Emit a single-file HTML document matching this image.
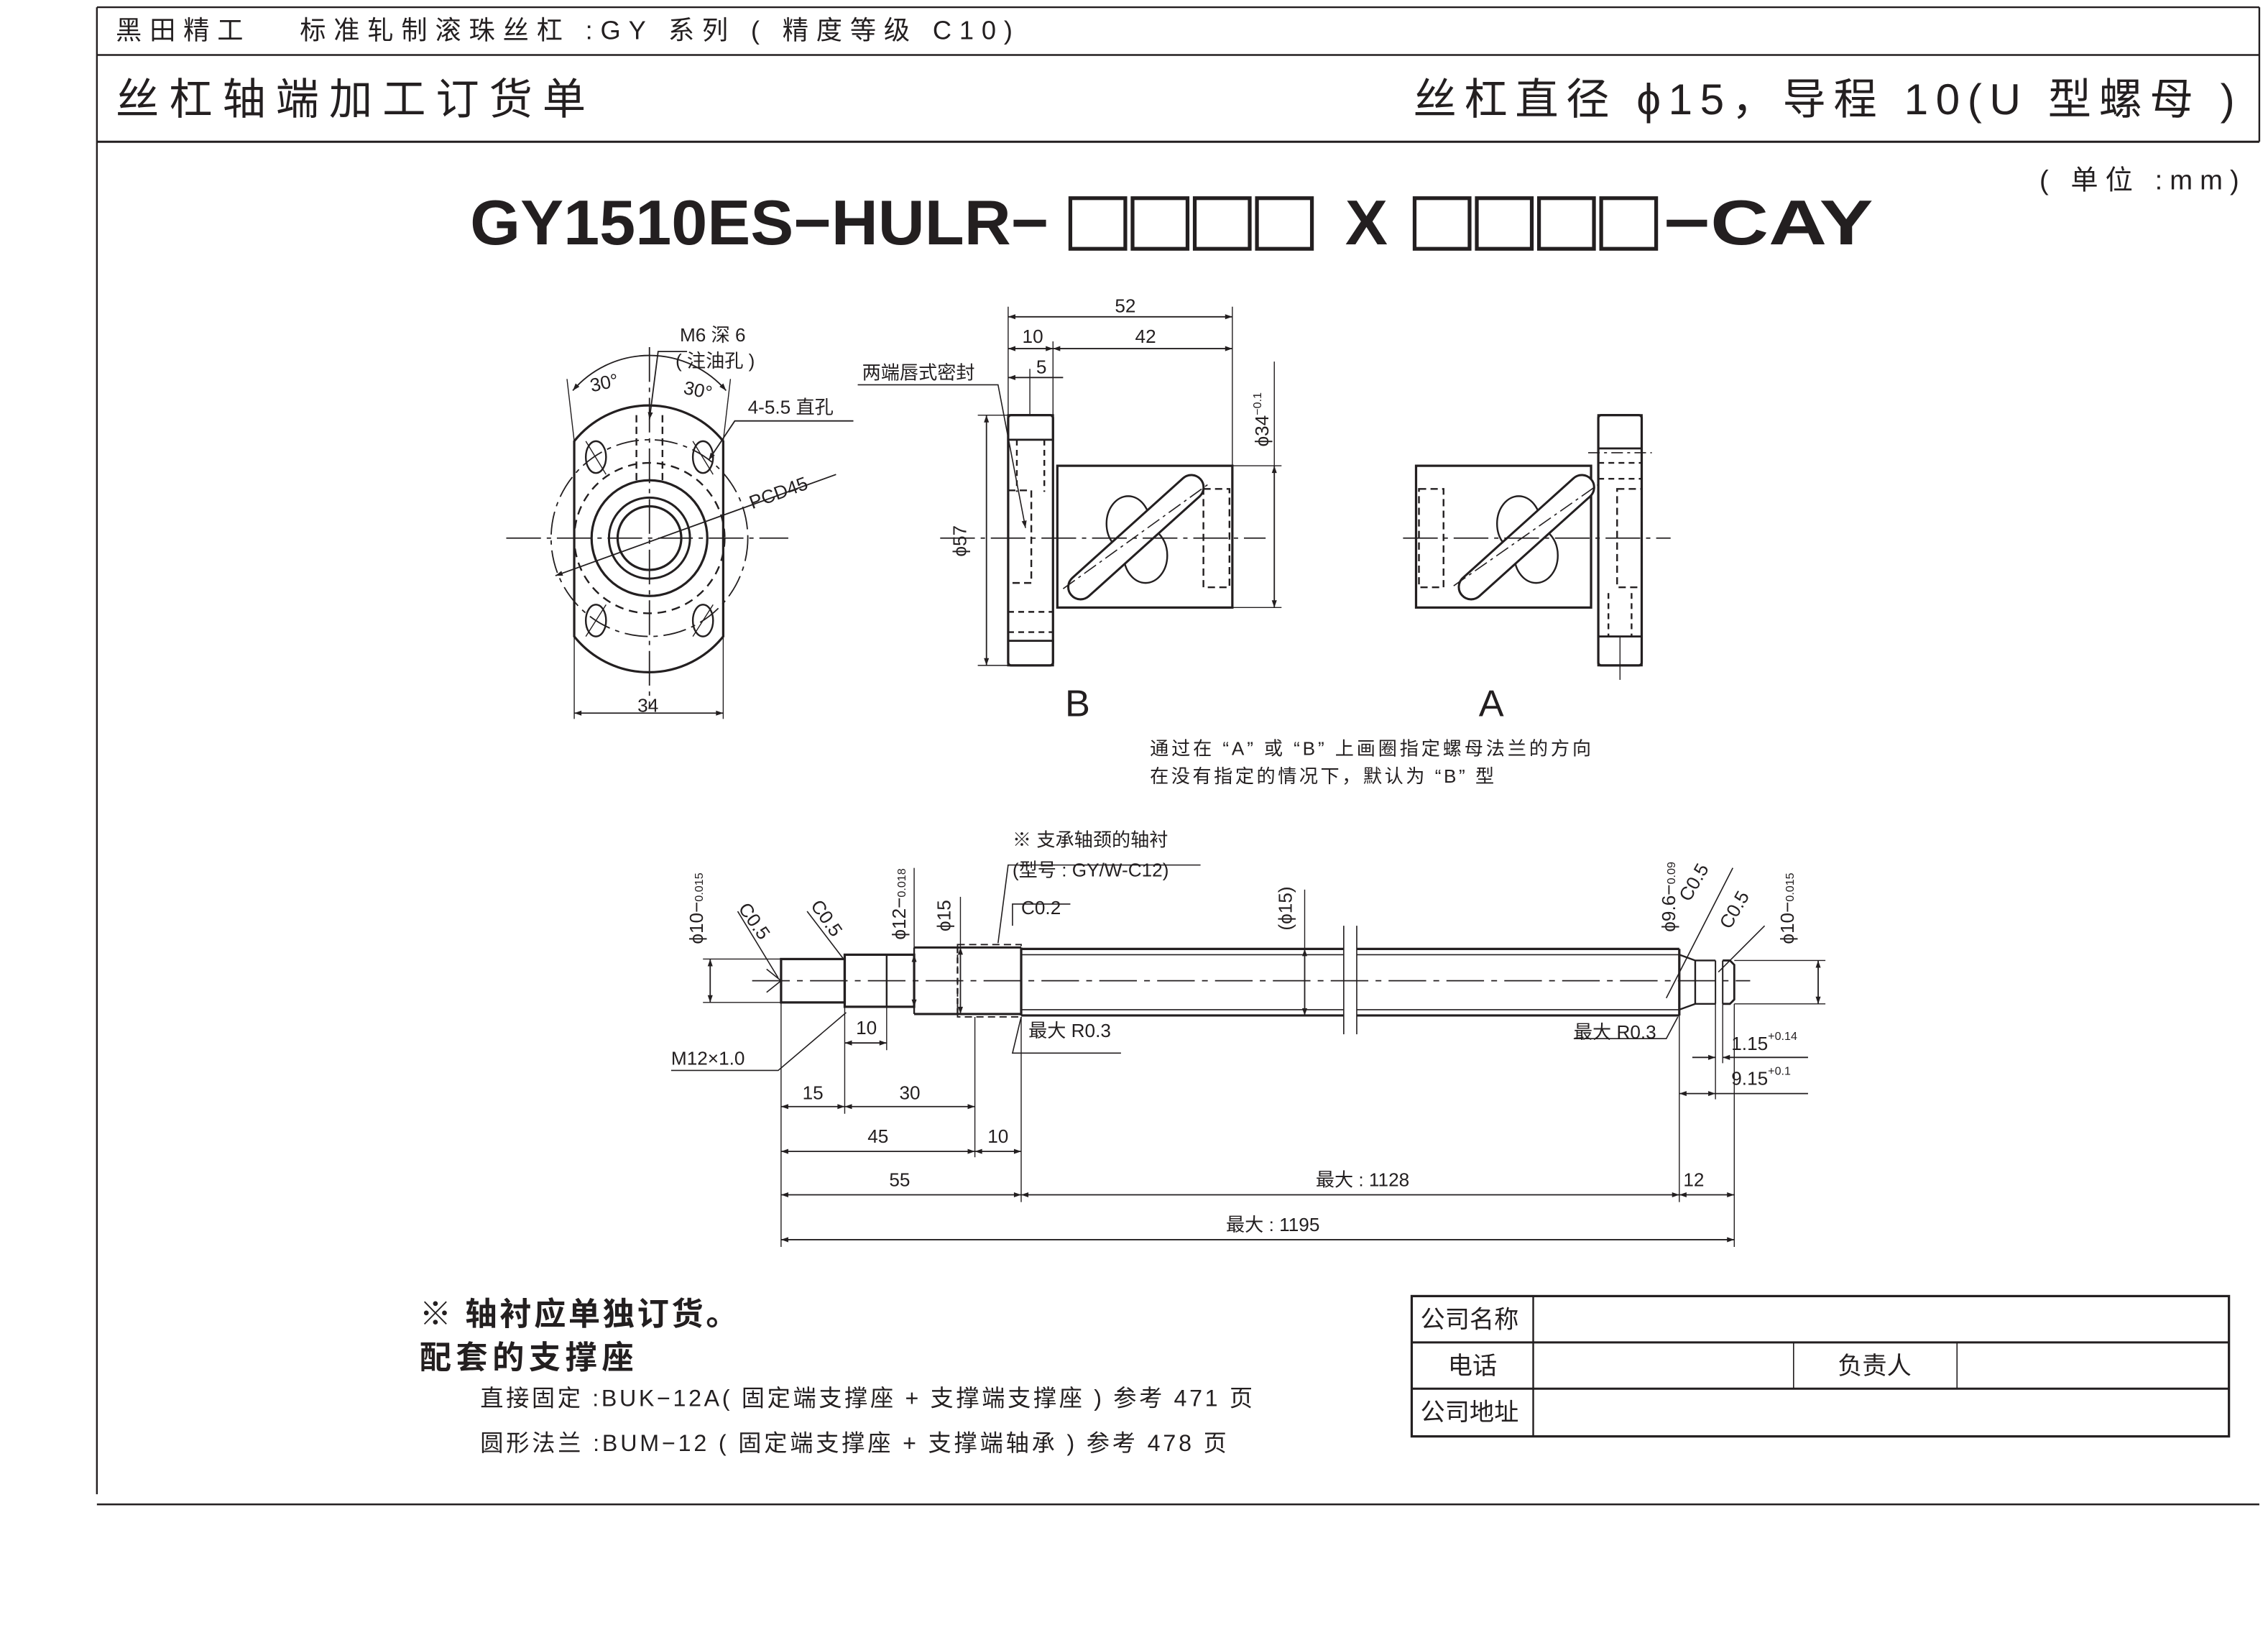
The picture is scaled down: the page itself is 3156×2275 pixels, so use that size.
<!DOCTYPE html>
<html><head><meta charset="utf-8"><style>
html,body{margin:0;padding:0;background:#fff;}
svg{display:block;}
text{font-family:"Liberation Sans","Noto Sans CJK SC",sans-serif;fill:#231f20;}
</style></head><body>
<svg width="3156" height="2275" viewBox="0 0 1568 1130.3" preserveAspectRatio="none" xmlns="http://www.w3.org/2000/svg">
<defs>
<marker id="ar" viewBox="0 0 10 10" refX="10" refY="5" markerWidth="7" markerHeight="5" orient="auto-start-reverse" markerUnits="userSpaceOnUse"><path d="M0,1.5 L10,5 L0,8.5z" fill="#231f20"/></marker>
</defs>
<g stroke="#231f20" fill="none" stroke-width="1.2">
<line x1="67" y1="5" x2="1562" y2="5"/>
<line x1="67" y1="38" x2="1562" y2="38"/>
<line x1="67" y1="98" x2="1562" y2="98" stroke-width="1.5"/>
<line x1="67" y1="5" x2="67" y2="1033"/>
<line x1="1562" y1="5" x2="1562" y2="98"/>
<line x1="67" y1="1040" x2="1562" y2="1040"/>

<!-- title boxes -->
<g stroke-width="2.6">
<rect x="740" y="137" width="38" height="35"/><rect x="783" y="137" width="38" height="35"/><rect x="826" y="137" width="38" height="35"/><rect x="869" y="137" width="38" height="35"/>
<rect x="978" y="137" width="38" height="35"/><rect x="1021" y="137" width="38" height="35"/><rect x="1064" y="137" width="38" height="35"/><rect x="1107" y="137" width="38" height="35"/>
</g>

<!-- front view -->
<path d="M397,305 A66,66 0 0 1 500,305 L500,440 A66,66 0 0 1 397,440 Z" stroke-width="1.6"/>
<line x1="350" y1="372" x2="545" y2="372" stroke-dasharray="24,4,3,4" stroke-width="0.9"/>
<line x1="449" y1="240" x2="449" y2="490" stroke-dasharray="24,4,3,4" stroke-width="0.9"/>
<circle cx="449" cy="372" r="22" stroke-width="1.6"/>
<circle cx="449" cy="372" r="28" stroke-width="1.5"/>
<circle cx="449" cy="372" r="40" stroke-width="1.6"/>
<circle cx="449" cy="372" r="52" stroke-dasharray="6,4"/>
<circle cx="449" cy="372" r="68" stroke-dasharray="16,4,3,4" stroke-width="0.9"/>
<ellipse cx="412" cy="316" rx="7" ry="11"/><ellipse cx="486" cy="316" rx="7" ry="11"/>
<ellipse cx="412" cy="429" rx="7" ry="11"/><ellipse cx="486" cy="429" rx="7" ry="11"/>
<line x1="405" y1="305" x2="419" y2="328" stroke-width="0.7"/><line x1="479" y1="305" x2="493" y2="328" stroke-width="0.7"/>
<line x1="405" y1="440" x2="419" y2="418" stroke-width="0.7"/><line x1="479" y1="440" x2="493" y2="418" stroke-width="0.7"/>
<path d="M440,287 V335 M458,287 V335" stroke-dasharray="5,3"/>
<path d="M396,270 A70,70 0 0 1 502,270" marker-start="url(#ar)" marker-end="url(#ar)" stroke-width="0.9"/>
<line x1="397" y1="305" x2="392" y2="262" stroke-width="0.7"/><line x1="500" y1="305" x2="505" y2="262" stroke-width="0.7"/>
<polyline points="449,290 455,243 475,243" stroke-width="0.9" marker-start="url(#ar)"/>
<polyline points="490,318 508,291 590,291" stroke-width="0.9" marker-start="url(#ar)"/>
<line x1="384" y1="398" x2="578" y2="328" marker-start="url(#ar)" stroke-width="0.9"/>
<line x1="397" y1="440" x2="397" y2="497" stroke-width="0.7"/><line x1="500" y1="440" x2="500" y2="497" stroke-width="0.7"/>
<line x1="397" y1="493" x2="500" y2="493" marker-start="url(#ar)" marker-end="url(#ar)" stroke-width="0.9"/>

<!-- view B -->
<rect x="697" y="287" width="31" height="173" rx="2" stroke-width="1.6"/>
<rect x="697" y="287" width="31" height="17" stroke-width="1.4"/>
<rect x="697" y="443" width="31" height="17" stroke-width="1.4"/>
<line x1="703" y1="304" x2="703" y2="340" stroke-dasharray="4,3"/><line x1="722" y1="304" x2="722" y2="340" stroke-dasharray="4,3"/>
<rect x="697" y="339" width="16" height="64" stroke-dasharray="5,3"/>
<line x1="697" y1="423" x2="728" y2="423" stroke-dasharray="4,3"/><line x1="697" y1="437" x2="728" y2="437" stroke-dasharray="4,3"/>
<rect x="731" y="322" width="121" height="98" stroke-width="1.6"/>
<rect x="832" y="338" width="18" height="68" stroke-dasharray="5,3"/>
<ellipse cx="780" cy="362" rx="15" ry="19"/><ellipse cx="792" cy="384" rx="15" ry="19"/>
<g transform="rotate(-42 785 371)"><rect x="725" y="363" width="120" height="17" rx="8.5" stroke-width="1.5" fill="#fff"/></g>
<line x1="735" y1="407" x2="835" y2="335" stroke-dasharray="10,3,2,3" stroke-width="0.8"/>
<line x1="650" y1="372" x2="875" y2="372" stroke-dasharray="24,4,3,4" stroke-width="0.9"/>
<line x1="697" y1="212" x2="697" y2="287" stroke-width="0.7"/><line x1="852" y1="212" x2="852" y2="322" stroke-width="0.7"/>
<line x1="728" y1="236" x2="728" y2="287" stroke-width="0.7"/><line x1="712" y1="255" x2="712" y2="287" stroke-width="0.7"/>
<line x1="697" y1="219" x2="852" y2="219" marker-start="url(#ar)" marker-end="url(#ar)" stroke-width="0.9"/>
<line x1="697" y1="241" x2="728" y2="241" marker-start="url(#ar)" marker-end="url(#ar)" stroke-width="0.9"/>
<line x1="728" y1="241" x2="852" y2="241" marker-start="url(#ar)" marker-end="url(#ar)" stroke-width="0.9"/>
<line x1="697" y1="261" x2="712" y2="261" marker-start="url(#ar)" stroke-width="0.9"/><line x1="712" y1="261" x2="735" y2="261" stroke-width="0.9"/>
<line x1="676" y1="287" x2="697" y2="287" stroke-width="0.7"/><line x1="676" y1="460" x2="697" y2="460" stroke-width="0.7"/>
<line x1="682" y1="287" x2="682" y2="460" marker-start="url(#ar)" marker-end="url(#ar)" stroke-width="0.9"/>
<line x1="852" y1="322" x2="886" y2="322" stroke-width="0.7"/><line x1="852" y1="420" x2="886" y2="420" stroke-width="0.7"/>
<line x1="881" y1="322" x2="881" y2="420" marker-start="url(#ar)" marker-end="url(#ar)" stroke-width="0.9"/>
<line x1="881" y1="250" x2="881" y2="322" stroke-width="0.7"/>
<polyline points="593,266 690,266 709,365" stroke-width="0.8" marker-end="url(#ar)"/>

<!-- view A -->
<rect x="979" y="322" width="121" height="98" stroke-width="1.6"/>
<rect x="981" y="338" width="17" height="68" stroke-dasharray="5,3"/>
<rect x="1105" y="287" width="30" height="173" rx="2" stroke-width="1.6"/>
<rect x="1105" y="287" width="30" height="23" stroke-width="1.4"/>
<rect x="1105" y="440" width="30" height="20" stroke-width="1.4"/>
<line x1="1105" y1="320" x2="1135" y2="320" stroke-dasharray="4,3"/><line x1="1105" y1="331" x2="1135" y2="331" stroke-dasharray="4,3"/>
<rect x="1118" y="338" width="17" height="68" stroke-dasharray="5,3"/>
<line x1="1112" y1="410" x2="1112" y2="440" stroke-dasharray="4,3"/><line x1="1128" y1="410" x2="1128" y2="440" stroke-dasharray="4,3"/>
<line x1="1098" y1="313" x2="1142" y2="313" stroke-dasharray="8,3,2,3" stroke-width="0.8"/>
<line x1="1120" y1="440" x2="1120" y2="470" stroke-width="0.7"/>
<ellipse cx="1050" cy="362" rx="15" ry="19"/><ellipse cx="1062" cy="384" rx="15" ry="19"/>
<g transform="rotate(-42 1055 371)"><rect x="995" y="363" width="120" height="17" rx="8.5" stroke-width="1.5" fill="#fff"/></g>
<line x1="1005" y1="405" x2="1105" y2="335" stroke-dasharray="10,3,2,3" stroke-width="0.8"/>
<line x1="970" y1="372" x2="1155" y2="372" stroke-dasharray="24,4,3,4" stroke-width="0.9"/>

<!-- shaft -->
<line x1="520" y1="678" x2="1210" y2="678" stroke-dasharray="26,5,4,5" stroke-width="0.9"/>
<rect x="540" y="663" width="44" height="30" stroke-width="1.6"/>
<rect x="584" y="660" width="48" height="36" stroke-width="1.6"/>
<line x1="613" y1="660" x2="613" y2="696"/>
<line x1="632" y1="655" x2="706" y2="655" stroke-width="1.5"/><line x1="632" y1="701" x2="706" y2="701" stroke-width="1.5"/>
<line x1="632" y1="655" x2="632" y2="701"/>
<line x1="662" y1="655" x2="662" y2="701" stroke-dasharray="4,3"/>
<rect x="662" y="653" width="44" height="50" stroke-dasharray="5,3" stroke-width="0.9"/>
<line x1="706" y1="655" x2="706" y2="702" stroke-width="1.6"/>
<path d="M706,656 H929 M938,656 H1161 M706,702 H929 M938,702 H1161" stroke-width="1.6"/>
<path d="M706,660 H929 M938,660 H1161 M706,698 H929 M938,698 H1161" stroke-width="0.8"/>
<path d="M929,640 V715 M938,640 V715" stroke-width="0.8"/>
<line x1="1161" y1="656" x2="1161" y2="702" stroke-width="1.6"/>
<path d="M1161,660 L1172,664 H1186 M1161,698 L1172,694 H1186 M1172,664 V694" stroke-width="1.2"/>
<path d="M1186,664 V694 M1191,664 V694" stroke-width="1"/>
<path d="M1191,664 H1196 L1199,667 V691 L1196,694 H1191" stroke-width="1.4"/>
<g stroke-width="0.7">
<line x1="540" y1="693" x2="540" y2="862"/><line x1="584" y1="696" x2="584" y2="770"/>
<line x1="613" y1="696" x2="613" y2="726"/><line x1="674" y1="703" x2="674" y2="800"/>
<line x1="706" y1="703" x2="706" y2="831"/><line x1="1161" y1="702" x2="1161" y2="831"/>
<line x1="1199" y1="694" x2="1199" y2="862"/><line x1="1186" y1="694" x2="1186" y2="760"/><line x1="1191" y1="694" x2="1191" y2="735"/>
<line x1="486" y1="663" x2="540" y2="663"/><line x1="486" y1="693" x2="540" y2="693"/>
<line x1="1199" y1="664" x2="1262" y2="664"/><line x1="1199" y1="694" x2="1262" y2="694"/>
<line x1="632" y1="600" x2="632" y2="655"/><line x1="664" y1="620" x2="664" y2="655"/>
<line x1="902" y1="615" x2="902" y2="656"/>
</g>
<g stroke-width="0.9">
<line x1="491" y1="663" x2="491" y2="693" marker-start="url(#ar)" marker-end="url(#ar)"/>
<line x1="1257" y1="664" x2="1257" y2="694" marker-start="url(#ar)" marker-end="url(#ar)"/>
<line x1="632" y1="660" x2="632" y2="696" marker-start="url(#ar)" marker-end="url(#ar)"/>
<line x1="664" y1="655" x2="664" y2="701" marker-start="url(#ar)" marker-end="url(#ar)"/>
<line x1="902" y1="656" x2="902" y2="702" marker-start="url(#ar)" marker-end="url(#ar)"/>
<line x1="584" y1="721" x2="613" y2="721" marker-start="url(#ar)" marker-end="url(#ar)"/>
<line x1="540" y1="765" x2="584" y2="765" marker-start="url(#ar)" marker-end="url(#ar)"/>
<line x1="584" y1="765" x2="674" y2="765" marker-start="url(#ar)" marker-end="url(#ar)"/>
<line x1="540" y1="796" x2="674" y2="796" marker-start="url(#ar)" marker-end="url(#ar)"/>
<line x1="674" y1="796" x2="706" y2="796" marker-start="url(#ar)" marker-end="url(#ar)"/>
<line x1="540" y1="826" x2="706" y2="826" marker-start="url(#ar)" marker-end="url(#ar)"/>
<line x1="706" y1="826" x2="1161" y2="826" marker-start="url(#ar)" marker-end="url(#ar)"/>
<line x1="1161" y1="826" x2="1199" y2="826" marker-start="url(#ar)" marker-end="url(#ar)"/>
<line x1="540" y1="857" x2="1199" y2="857" marker-start="url(#ar)" marker-end="url(#ar)"/>
<line x1="1170" y1="731" x2="1186" y2="731" marker-end="url(#ar)"/><line x1="1191" y1="731" x2="1250" y2="731" marker-start="url(#ar)"/>
<line x1="1161" y1="756" x2="1186" y2="756" marker-start="url(#ar)" marker-end="url(#ar)"/><line x1="1186" y1="756" x2="1250" y2="756"/>
</g>
<g stroke-width="0.8">
<polyline points="510,630 538,676"/><line x1="530" y1="670" x2="540" y2="678"/><line x1="530" y1="686" x2="540" y2="678"/>
<polyline points="558,630 584,664"/>
<polyline points="464,740 538,740 585,700"/>
<polyline points="700,640 700,625 740,625"/>
<polyline points="690,652 697,598 830,598"/>
<polyline points="706,703 700,728 775,728"/>
<polyline points="1160,703 1152,718 1088,718"/>
<line x1="1152" y1="690" x2="1198" y2="600"/>
<line x1="1188" y1="672" x2="1220" y2="640"/>
</g>

<rect x="976" y="896" width="565" height="97" stroke-width="1.6"/>
<line x1="976" y1="928" x2="1541" y2="928" stroke-width="1.5"/>
<line x1="976" y1="960" x2="1541" y2="960" stroke-width="1.5"/>
<line x1="1060" y1="896" x2="1060" y2="993"/>
<line x1="1240" y1="928" x2="1240" y2="960" stroke-width="0.8"/>
<line x1="1353" y1="928" x2="1353" y2="960" stroke-width="0.8"/>
</g>

<text x="80" y="27" font-size="18" textLength="620" lengthAdjust="spacing">黑田精工　 标准轧制滚珠丝杠 :GY 系列 ( 精度等级 C10)</text>
<text x="80" y="79" font-size="30" textLength="325" lengthAdjust="spacing">丝杠轴端加工订货单</text>
<text x="977" y="79" font-size="30" textLength="568" lengthAdjust="spacing">丝杠直径 ϕ15，导程 10(U 型螺母 )</text>
<text x="1410" y="131" font-size="19" textLength="138" lengthAdjust="spacing">( 单位 :mm)</text>
<text x="325" y="169" font-size="44" font-weight="bold" textLength="400" lengthAdjust="spacingAndGlyphs">GY1510ES−HULR−</text>
<text x="930" y="169" font-size="44" font-weight="bold">X</text>
<text x="1150" y="169" font-size="44" font-weight="bold" textLength="145" lengthAdjust="spacingAndGlyphs">−CAY</text>

<g font-size="13">
<text x="470" y="236">M6 深 6</text>
<text x="467" y="254">( 注油孔 )</text>
<text x="409" y="271" transform="rotate(-12 409 271)">30°</text>
<text x="472" y="272" transform="rotate(12 472 272)">30°</text>
<text x="517" y="286">4-5.5 直孔</text>
<text x="520" y="352" transform="rotate(-20 520 352)">PCD45</text>
<text x="448" y="492" text-anchor="middle">34</text>
<text x="778" y="216" text-anchor="middle">52</text>
<text x="714" y="237" text-anchor="middle">10</text>
<text x="792" y="237" text-anchor="middle">42</text>
<text x="720" y="258" text-anchor="middle">5</text>
<text x="596" y="262">两端唇式密封</text>
<text x="668" y="374" transform="rotate(-90 668 374)" text-anchor="middle">ϕ57</text>
<text x="877" y="290" transform="rotate(-90 877 290)" text-anchor="middle">ϕ34<tspan font-size="8" dy="-5">−0.1</tspan></text>
<text x="795" y="522" textLength="305" lengthAdjust="spacing">通过在 “A” 或 “B” 上画圈指定螺母法兰的方向</text>
<text x="795" y="541" textLength="238" lengthAdjust="spacing">在没有指定的情况下，默认为 “B” 型</text>

<text x="486" y="628" transform="rotate(-90 486 628)" text-anchor="middle">ϕ10−<tspan font-size="8">0.015</tspan></text>
<text x="510" y="628" transform="rotate(55 510 628)">C0.5</text>
<text x="560" y="626" transform="rotate(55 560 626)">C0.5</text>
<text x="626" y="625" transform="rotate(-90 626 625)" text-anchor="middle">ϕ12−<tspan font-size="8">0.018</tspan></text>
<text x="657" y="633" transform="rotate(-90 657 633)" text-anchor="middle">ϕ15</text>
<text x="700" y="585">※ 支承轴颈的轴衬</text>
<text x="700" y="606">(型号 : GY/W-C12)</text>
<text x="706" y="632">C0.2</text>
<text x="893" y="628" transform="rotate(-90 893 628)" text-anchor="middle">(ϕ15)</text>
<text x="711" y="717">最大 R0.3</text>
<text x="1088" y="718">最大 R0.3</text>
<text x="1158" y="620" transform="rotate(-90 1158 620)" text-anchor="middle">ϕ9.6−<tspan font-size="8">0.09</tspan></text>
<text x="1168" y="624" transform="rotate(-60 1168 624)">C0.5</text>
<text x="1196" y="643" transform="rotate(-60 1196 643)">C0.5</text>
<text x="1240" y="628" transform="rotate(-90 1240 628)" text-anchor="middle">ϕ10−<tspan font-size="8">0.015</tspan></text>
<text x="1197" y="726">1.15<tspan font-size="8" dy="-7">+0.14</tspan></text>
<text x="1197" y="750">9.15<tspan font-size="8" dy="-7">+0.1</tspan></text>
<text x="599" y="715" text-anchor="middle">10</text>
<text x="464" y="736">M12×1.0</text>
<text x="562" y="760" text-anchor="middle">15</text>
<text x="629" y="760" text-anchor="middle">30</text>
<text x="607" y="790" text-anchor="middle">45</text>
<text x="690" y="790" text-anchor="middle">10</text>
<text x="622" y="820" text-anchor="middle">55</text>
<text x="942" y="820" text-anchor="middle">最大 : 1128</text>
<text x="1171" y="820" text-anchor="middle">12</text>
<text x="880" y="851" text-anchor="middle">最大 : 1195</text>
</g>
<text x="745" y="495" font-size="26" text-anchor="middle">B</text>
<text x="1031" y="495" font-size="26" text-anchor="middle">A</text>

<text x="290" y="916" font-size="22" font-weight="bold" textLength="220" lengthAdjust="spacing">※ 轴衬应单独订货。</text>
<text x="290" y="946" font-size="22" font-weight="bold" textLength="148" lengthAdjust="spacing">配套的支撑座</text>
<text x="332" y="972" font-size="16" textLength="534" lengthAdjust="spacing">直接固定 :BUK−12A( 固定端支撑座 + 支撑端支撑座 ) 参考 471 页</text>
<text x="332" y="1003" font-size="16" textLength="516" lengthAdjust="spacing">圆形法兰 :BUM−12 ( 固定端支撑座 + 支撑端轴承 ) 参考 478 页</text>
<g font-size="17">
<text x="982" y="918">公司名称</text>
<text x="1018" y="950" text-anchor="middle">电话</text>
<text x="1296" y="950" text-anchor="middle">负责人</text>
<text x="982" y="982">公司地址</text>
</g>
</svg>
</body></html>
